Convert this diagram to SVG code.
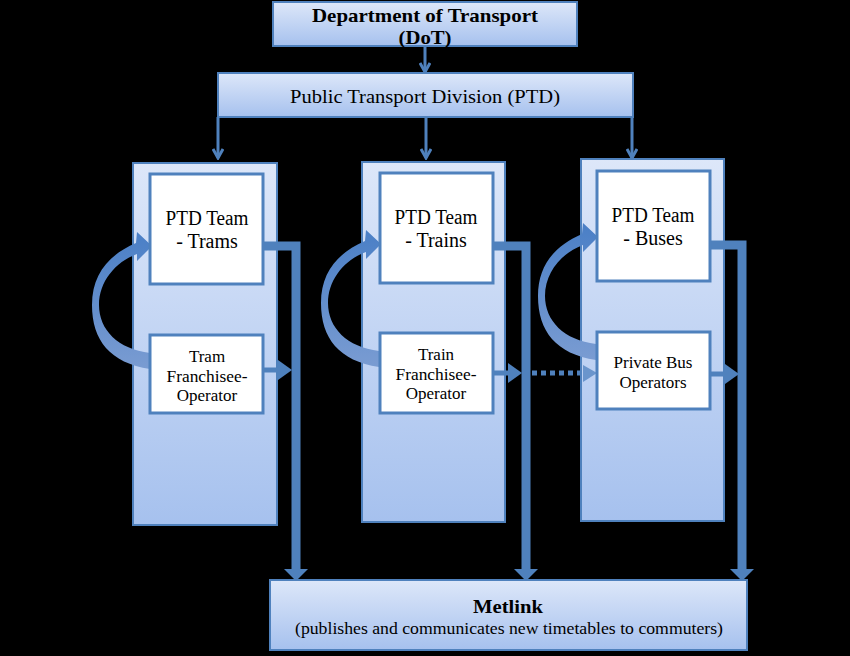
<svg xmlns="http://www.w3.org/2000/svg" width="850" height="656" viewBox="0 0 850 656">
<defs>
<linearGradient id="g" x1="0" y1="0" x2="0" y2="1">
<stop offset="0" stop-color="#dde7f9"/>
<stop offset="1" stop-color="#a6c1ee"/>
</linearGradient>
<linearGradient id="cg" gradientUnits="userSpaceOnUse" x1="0" y1="232" x2="0" y2="370">
<stop offset="0" stop-color="#4a7fc6"/>
<stop offset="1" stop-color="#7a9cd2"/>
</linearGradient>
<marker id="open" viewBox="0 0 12 12" refX="10" refY="6" markerWidth="12" markerHeight="12" markerUnits="userSpaceOnUse" orient="auto">
<path d="M1,1 L10,6 L1,11" fill="none" stroke="#4f81bd" stroke-width="3"/>
</marker>
<path id="curve" d="M150,369 C110,363 92,340 92,305 C92,275 108,255 136,243 L137,232 L152,246 L137,261 L137,254 C115,262 99,282 99,305 C99,330 118,349 150,353 Z"/>
</defs>
<style>
.box{fill:url(#g);stroke:#4f81bd;stroke-width:2}
.col{fill:url(#g);stroke:#4f81bd;stroke-width:2}
.inner{fill:#ffffff;stroke:#4f81bd;stroke-width:3}
.t{font-family:"Liberation Serif","Times New Roman",serif;fill:#000;text-anchor:middle}
.b{font-weight:bold}
.thin{fill:none;stroke:#4f81bd;stroke-width:3;marker-end:url(#open)}
.thick{fill:none;stroke:#4f81bd;stroke-width:9}
.mid{fill:none;stroke:#4f81bd;stroke-width:5}
.head{fill:#4f81bd}
.cur{fill:url(#cg)}
</style>
<rect width="850" height="656" fill="#000"/>

<g id="columns">
<rect id="col-trams" class="col" x="133" y="163" width="144" height="362"/>
<rect id="col-trains" class="col" x="362" y="162" width="143" height="360"/>
<rect id="col-buses" class="col" x="581" y="159" width="143" height="362"/>
</g>

<g id="dot">
<rect class="box" x="273" y="2" width="304" height="44"/>
<text class="t b" x="425" y="22" font-size="19" textLength="226" lengthAdjust="spacingAndGlyphs">Department of Transport</text>
<text class="t b" x="425" y="44" font-size="19" textLength="53" lengthAdjust="spacingAndGlyphs">(DoT)</text>
</g>

<g id="ptd">
<rect class="box" x="218" y="73" width="415" height="44"/>
<text class="t" x="425" y="103" font-size="19" textLength="270" lengthAdjust="spacingAndGlyphs">Public Transport Division (PTD)</text>
</g>

<g id="metlink">
<rect class="box" x="270" y="580" width="477" height="70"/>
<text class="t b" x="508" y="613" font-size="19" textLength="70" lengthAdjust="spacingAndGlyphs">Metlink</text>
<text class="t" x="509" y="634" font-size="17" textLength="428" lengthAdjust="spacingAndGlyphs">(publishes and communicates new timetables to commuters)</text>
</g>

<g id="connectors">
<line class="thin" x1="425" y1="46" x2="425" y2="72"/>
<line class="thin" x1="218" y1="117" x2="218" y2="158"/>
<line class="thin" x1="426" y1="117" x2="426" y2="158"/>
<line class="thin" x1="632" y1="117" x2="632" y2="158"/>

<use href="#curve" class="cur"/>
<use href="#curve" class="cur" transform="translate(229,-2)"/>
<use href="#curve" class="cur" transform="translate(446,-9)"/>

<path class="thick" d="M263,246 H296 V570"/>
<polygon class="head" points="284,569 308,569 296,581"/>
<path class="thick" d="M493,246 H526 V570"/>
<polygon class="head" points="514,569 538,569 526,581"/>
<path class="thick" d="M710,245 H742 V570"/>
<polygon class="head" points="730,569 754,569 742,581"/>

<line class="mid" x1="263" y1="370" x2="280" y2="370"/>
<polygon class="head" points="278,360 292,370 278,380"/>
<line class="mid" x1="493" y1="373" x2="510" y2="373"/>
<polygon class="head" points="508,363 522,373 508,383"/>
<line class="mid" x1="710" y1="374" x2="727" y2="374"/>
<polygon class="head" points="725,364 739,374 725,384"/>

<line x1="532" y1="373" x2="582" y2="373" stroke="#4f81bd" stroke-width="5" stroke-dasharray="5,4"/>
<polygon points="583,365 597,373 583,382" fill="#6a95cc"/>
</g>

<g id="team-trams">
<rect class="inner" x="150" y="174" width="113" height="110"/>
<text class="t" x="207" y="225" font-size="20" textLength="83" lengthAdjust="spacingAndGlyphs">PTD Team</text>
<text class="t" x="207" y="248" font-size="20">- Trams</text>
</g>
<g id="op-trams">
<rect class="inner" x="150" y="335" width="113" height="78"/>
<text class="t" x="207" y="362" font-size="17">Tram</text>
<text class="t" x="207" y="382" font-size="17" textLength="81" lengthAdjust="spacingAndGlyphs">Franchisee-</text>
<text class="t" x="207" y="401" font-size="17">Operator</text>
</g>

<g id="team-trains">
<rect class="inner" x="380" y="173" width="113" height="110"/>
<text class="t" x="436" y="224" font-size="20" textLength="83" lengthAdjust="spacingAndGlyphs">PTD Team</text>
<text class="t" x="436" y="247" font-size="20">- Trains</text>
</g>
<g id="op-trains">
<rect class="inner" x="380" y="333" width="113" height="80"/>
<text class="t" x="436" y="360" font-size="17">Train</text>
<text class="t" x="436" y="380" font-size="17" textLength="81" lengthAdjust="spacingAndGlyphs">Franchisee-</text>
<text class="t" x="436" y="399" font-size="17">Operator</text>
</g>

<g id="team-buses">
<rect class="inner" x="597" y="171" width="113" height="110"/>
<text class="t" x="653" y="222" font-size="20" textLength="83" lengthAdjust="spacingAndGlyphs">PTD Team</text>
<text class="t" x="653" y="245" font-size="20">- Buses</text>
</g>
<g id="op-buses">
<rect class="inner" x="597" y="332" width="113" height="77"/>
<text class="t" x="653" y="368" font-size="17" textLength="79" lengthAdjust="spacingAndGlyphs">Private Bus</text>
<text class="t" x="653" y="388" font-size="17">Operators</text>
</g>
</svg>
